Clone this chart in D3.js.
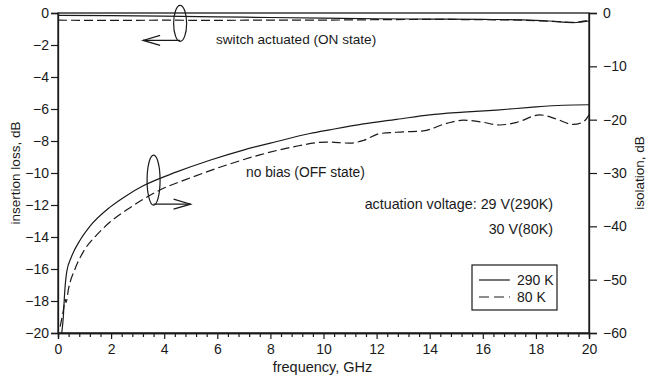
<!DOCTYPE html>
<html>
<head>
<meta charset="utf-8">
<script src="https://cdn.jsdelivr.net/npm/d3@7"></script>
<style>
  body { margin: 0; background: #fff; }
  svg { font-family: "Liberation Sans", Arial, sans-serif; }
</style>
</head>
<body>
<script>
// frequency (GHz) and insertion loss (dB, left axis) for the ON state
const onFreq = [0, 2, 4, 6, 8, 10, 12, 14, 16, 17.5, 18.5, 19.4, 20];
const on290 = [-0.15, -0.17, -0.2, -0.24, -0.28, -0.32, -0.36, -0.38, -0.4, -0.43, -0.5, -0.6, -0.5];
const on80 = [-0.45, -0.46, -0.45, -0.46, -0.44, -0.44, -0.42, -0.4, -0.42, -0.45, -0.52, -0.58, -0.45];

// isolation (dB, right axis) for the OFF state
const off290Freq = [0.14, 0.2, 0.25, 0.33, 0.5, 0.83, 1.2, 1.96, 2.59, 3.21, 4.47, 5.72, 6.98, 8.24, 9.49, 10.24, 11.5, 12.76, 14.0, 15.27, 16.52, 17.78, 19.03, 20];
const off290 = [-60, -57, -52.5, -48.5, -45.8, -42.6, -40.0, -36.4, -34.2, -32.4, -29.8, -27.6, -25.7, -24.1, -22.6, -21.9, -20.8, -19.95, -19.1, -18.6, -18.2, -17.7, -17.3, -17.2];
const off80Freq = [0.08, 0.2, 0.27, 0.3, 0.4, 0.64, 1.0, 1.46, 1.96, 2.59, 3.84, 5.1, 6.35, 7.6, 8.86, 10.12, 11.0, 11.5, 12.13, 13.0, 13.76, 14.64, 15.27, 15.9, 16.65, 17.28, 18.15, 18.78, 19.4, 19.79, 20];
const off80 = [-58.8, -55.8, -53.7, -54.3, -51.6, -48, -44.4, -41.6, -39.2, -36.9, -33.2, -30.7, -28.5, -26.6, -25.1, -24.2, -24.4, -23.9, -22.6, -22.3, -22.1, -20.7, -20.1, -20.4, -21.0, -20.5, -19.1, -19.9, -20.9, -20.4, -19.1];

const xTicks = [0, 2, 4, 6, 8, 10, 12, 14, 16, 18, 20];
const leftTicks = [0, -2, -4, -6, -8, -10, -12, -14, -16, -18, -20];
const rightTicks = [0, -10, -20, -30, -40, -50, -60];
const legendLabels = ["290 K", "80 K"];

const W = 646, H = 383;
const margin = { top: 13, right: 57, bottom: 50, left: 58 };
const width = W - margin.left - margin.right;
const height = H - margin.top - margin.bottom;
const ink = "#1a1a1a";

const svg = d3.select("body").append("svg")
  .attr("width", W)
  .attr("height", H);

const g = svg.append("g")
  .attr("transform", `translate(${margin.left},${margin.top})`);

const x = d3.scaleLinear().domain([0, 20]).range([0, width]);
const yL = d3.scaleLinear().domain([-20, 0]).range([height, 0]);
const yR = d3.scaleLinear().domain([-60, 0]).range([height, 0]);

// frame
g.append("rect")
  .attr("width", width).attr("height", height)
  .attr("fill", "none").attr("stroke", ink).attr("stroke-width", 1.3);

// axes
const fmt = d3.format("d");
const xAxis = g.append("g")
  .attr("transform", `translate(0,${height})`)
  .call(d3.axisBottom(x).tickValues(xTicks).tickFormat(fmt).tickSize(6).tickPadding(5));
const xMinor = g.append("g")
  .attr("transform", `translate(0,${height})`)
  .call(d3.axisBottom(x).tickValues(d3.range(0, 20.01, 0.4).filter(v => Math.abs(v / 2 - Math.round(v / 2)) > 0.01)).tickFormat("").tickSize(4));
const leftAxis = g.append("g")
  .call(d3.axisLeft(yL).tickValues(leftTicks).tickFormat(fmt).tickSize(7).tickPadding(2));
const rightAxis = g.append("g")
  .attr("transform", `translate(${width},0)`)
  .call(d3.axisRight(yR).tickValues(rightTicks).tickFormat(fmt).tickSize(8).tickPadding(6));

[xAxis, xMinor, leftAxis, rightAxis].forEach(a => {
  a.select(".domain").attr("stroke", ink).attr("stroke-width", 1.3);
  a.selectAll(".tick line").attr("stroke", ink).attr("stroke-width", 1.2);
  a.selectAll(".tick text").attr("fill", ink).style("font-size", "14px").style("font-family", "Liberation Sans, Arial, sans-serif");
});

// curves
const lineL = d3.line().x(d => x(d[0])).y(d => yL(d[1])).curve(d3.curveMonotoneX);
const lineR = d3.line().x(d => x(d[0])).y(d => yR(d[1])).curve(d3.curveMonotoneX);

const series = [
  { pts: d3.zip(onFreq, on290), line: lineL, dash: null },
  { pts: d3.zip(onFreq, on80), line: lineL, dash: "9,4" },
  { pts: d3.zip(off290Freq, off290), line: lineR, dash: null },
  { pts: d3.zip(off80Freq, off80), line: lineR, dash: "9,4" }
];
series.forEach(s => {
  g.append("path")
    .attr("d", s.line(s.pts))
    .attr("fill", "none")
    .attr("stroke", ink)
    .attr("stroke-width", 1.2)
    .attr("stroke-dasharray", s.dash);
});

// annotations: ellipses with arrows
function marker(cx, cy, ry, dir) {
  const a = g.append("g").attr("stroke", ink).attr("fill", "none").attr("stroke-width", 1.2);
  a.append("ellipse").attr("cx", cx).attr("cy", cy).attr("rx", 6.5).attr("ry", ry);
  const yA = cy + ry - 1;
  const tip = cx + dir * 37;
  a.append("line").attr("x1", cx).attr("y1", yA).attr("x2", tip).attr("y2", yA);
  a.append("path").attr("d", `M${tip - dir * 17},${yA - 5}L${tip},${yA}L${tip - dir * 17},${yA + 5}`);
}
marker(x(4.6), yL(-0.65), 18, -1);
marker(x(3.6), yL(-10.45), 25, 1);

const txt = (px, py, s, anchor, size) => g.append("text")
  .attr("x", px).attr("y", py)
  .attr("text-anchor", anchor || "start")
  .attr("fill", ink).style("font-size", size || "14px")
  .text(s);

txt(216 - margin.left, 44 - margin.top, "switch actuated (ON state)", "start", "13.6px");
txt(246 - margin.left, 177 - margin.top, "no bias (OFF state)", "start", "13.8px");
txt(553 - margin.left, 209 - margin.top, "actuation voltage: 29 V(290K)", "end", "14.3px");
txt(553 - margin.left, 234 - margin.top, "30 V(80K)", "end", "14.3px");

// legend
const leg = g.append("g").attr("transform", `translate(${472 - margin.left},${265 - margin.top})`);
leg.append("rect").attr("width", 85).attr("height", 45)
  .attr("fill", "#fff").attr("stroke", ink).attr("stroke-width", 1.2);
legendLabels.forEach((lab, i) => {
  const yy = 15 + i * 17;
  leg.append("line").attr("x1", 7).attr("x2", 38).attr("y1", yy).attr("y2", yy)
    .attr("stroke", ink).attr("stroke-width", 1.2)
    .attr("stroke-dasharray", i === 1 ? "10,5" : null);
  leg.append("text").attr("x", 45).attr("y", yy + 5)
    .attr("fill", ink).style("font-size", "14px").text(lab);
});

// axis titles
svg.append("text")
  .attr("transform", `translate(20,${margin.top + height / 2}) rotate(-90)`)
  .attr("text-anchor", "middle").attr("fill", ink).style("font-size", "13.5px")
  .text("insertion loss, dB");
svg.append("text")
  .attr("transform", `translate(644,${margin.top + height / 2}) rotate(-90)`)
  .attr("text-anchor", "middle").attr("fill", ink).style("font-size", "13.5px")
  .text("isolation, dB");
svg.append("text")
  .attr("x", margin.left + width / 2 - 1).attr("y", 372)
  .attr("text-anchor", "middle").attr("fill", ink).style("font-size", "14.5px")
  .text("frequency, GHz");
</script>
</body>
</html>
